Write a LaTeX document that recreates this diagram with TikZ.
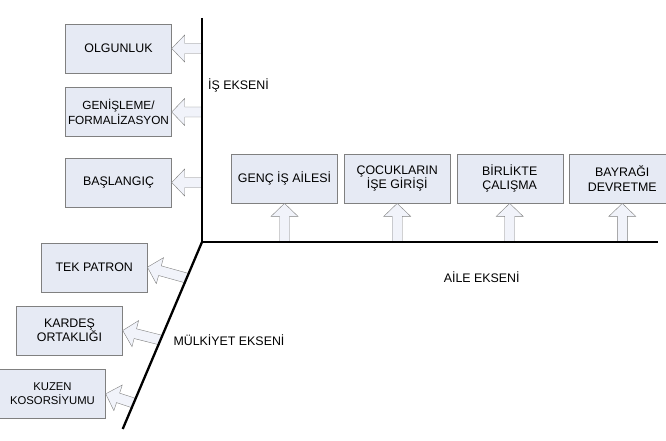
\documentclass[tikz,border=0pt]{standalone}
\usepackage{fontspec}
\setmainfont{Liberation Sans}
\usetikzlibrary{calc}
\definecolor{boxfill}{HTML}{E6EAF4}
\definecolor{boxline}{HTML}{808080}
\definecolor{arrowfill}{HTML}{F1F3FA}

\begin{document}
\begin{tikzpicture}[
  x=1pt,y=-1pt,
  font=\fontsize{12.4}{14.3}\selectfont,
  stage/.style={draw=boxline,fill=boxfill,align=center,minimum width=106pt,minimum height=49pt,inner sep=2pt},
  axis/.style={line width=2.3pt,line join=miter},
  blockarrow/.style={draw=boxline,fill=arrowfill,line join=miter},
  axislabel/.style={inner sep=0pt}
]
% page size of the reference
\useasboundingbox (0,0) rectangle (666,441);
\clip (0,0) rectangle (666,441);

% block arrow sizes
\def\sw{5pt}
\def\hw{13.5pt}
\def\hl{13pt}

% business axis stages
\node[stage] (olgun) at (118.5,48.5) {OLGUNLUK};
\node[stage,font=\fontsize{11.8}{14.3}\selectfont] (genis) at (118.5,112) {GENİŞLEME/\\FORMALİZASYON};
\node[stage] (basla) at (118.5,182.5) {BAŞLANGIÇ};

% family axis stages
\node[stage] (genc)   at (284.5,178.7) {GENÇ İŞ AİLESİ};
\node[stage] (cocuk)  at (397.2,178.7) {ÇOCUKLARIN\\İŞE GİRİŞİ};
\node[stage] (birlik) at (509.7,178.7) {BİRLİKTE\\ÇALIŞMA};
\node[stage] (bayrak) at (622.3,178.7) {BAYRAĞI\\DEVRETME};

% ownership axis stages
\node[stage] (tek)    at (94.2,267.2) {TEK PATRON};
\node[stage] (kardes) at (69.5,330.5) {KARDEŞ\\ORTAKLIĞI};
\node[stage,font=\fontsize{11.3}{14.3}\selectfont] (kuzen) at (52.5,393.8) {KUZEN\\KOSORSİYUMU};

% axes end points
\coordinate (o) at (202,242);
\coordinate (istop) at (202,18);
\coordinate (aileend) at (658,242);
\coordinate (mulkend) at (122.7,429);

% helper: hollow block arrow from #1 to #2
\newcommand{\blockarr}[2]{%
  \path[blockarrow] let \p1=(#1), \p2=(#2),
    \n1={atan2(\y2-\y1,\x2-\x1)}, \n2={veclen(\x2-\x1,\y2-\y1)} in
    [shift={(\p1)},rotate=\n1]
    (0pt,-\sw) -- ({\n2*1pt-\hl},-\sw) -- ({\n2*1pt-\hl},-\hw) -- ({\n2*1pt},0pt)
    -- ({\n2*1pt-\hl},\hw) -- ({\n2*1pt-\hl},\sw) -- (0pt,\sw) -- cycle;}

% arrows from the axes to the stages
\foreach \s in {olgun,genis,basla} \blockarr{o |- \s}{\s.east};
\foreach \s in {genc,cocuk,birlik,bayrak} \blockarr{\s |- o}{\s.south};
\coordinate (m1) at ($(o)!0.193!(mulkend)$);
\coordinate (m2) at ($(o)!0.524!(mulkend)$);
\coordinate (m3) at ($(o)!0.861!(mulkend)$);
\blockarr{m1}{tek.east}
\blockarr{m2}{kardes.east}
\blockarr{m3}{kuzen.east}

% the three axes
\draw[axis] (istop) -- (o) -- (aileend);
\draw[axis] (o) -- (mulkend);

% axis labels
\node[axislabel,anchor=west] (islbl)   at (208,85)      {İŞ EKSENİ};
\node[axislabel]             (ailelbl) at (481.7,276.7) {AİLE EKSENİ};
\node[axislabel,anchor=west] (mulklbl) at (173.3,340)   {MÜLKİYET EKSENİ};
\end{tikzpicture}
\end{document}
